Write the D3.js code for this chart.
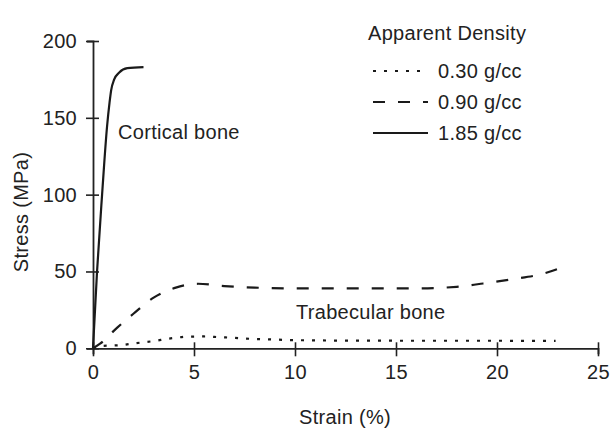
<!DOCTYPE html>
<html>
<head>
<meta charset="utf-8">
<script src="https://d3js.org/d3.v7.min.js"></script>
<style>
body { margin: 0; background: #fff; }
svg text { font-family: "Liberation Sans", Arial, Helvetica, sans-serif; fill: #222; letter-spacing: 0.3px; }
</style>
</head>
<body>
<svg id="chart" width="611" height="431"></svg>
<script>
// strain (%) , stress (MPa)
var lowDensity = [[0,0],[0.43,1.5],[1.42,2.1],[1.98,3.1],[2.48,3.9],[3.07,4.8],[3.65,6.1],[4.14,6.9],[4.7,7.6],[5.5,7.7],[6.3,7.2],[6.9,6.9],[7.9,6.1],[8.5,5.9],[10,5.3],[13,5],[17,4.9],[20,4.9],[22.9,4.8]];
var midDensity = [[0,0],[0.35,3],[1.2,13.5],[2,22.5],[3,33],[4.1,39.5],[5.2,42],[6.5,40.5],[8,39.5],[10,39],[13,39],[16,39],[18,40],[19.2,42],[20.8,45],[22.3,48.6],[23.5,54]];
var highDensity = [[0,0],[0.2,50],[0.45,100],[0.7,145],[0.82,160],[0.9,168],[1.05,175],[1.3,179.5],[1.7,182.3],[2.5,183]];

var xTicks = [0, 5, 10, 15, 20, 25];
var yTicks = [0, 50, 100, 150, 200];
var legendTitle = "Apparent Density";
var legendLabels = ["0.30 g/cc", "0.90 g/cc", "1.85 g/cc"];
var dashes = ["3,8", "12,13", null];

var svg = d3.select("#chart");
var x = d3.scaleLinear().domain([0, 25]).range([93, 598]);
var y = d3.scaleLinear().domain([0, 200]).range([348.3, 41]);

// axes, ticks crossing the line
var xAxis = svg.append("g").attr("transform", "translate(0," + y(0) + ")")
	.call(d3.axisBottom(x).tickValues(xTicks).tickSizeOuter(0).tickSize(6).tickPadding(11));
xAxis.selectAll(".tick line").attr("y1", -6).attr("y2", 8);
var yAxis = svg.append("g").attr("transform", "translate(" + x(0) + ",0)")
	.call(d3.axisLeft(y).tickValues(yTicks).tickSizeOuter(0).tickSize(6).tickPadding(10));
yAxis.selectAll(".tick line").attr("x1", -7).attr("x2", 6);
svg.selectAll(".domain").attr("stroke", "#222").attr("stroke-width", 1.8);
svg.selectAll(".tick line").attr("stroke", "#222").attr("stroke-width", 1.6);
svg.selectAll(".tick text").style("font-size", "20px").attr("fill", "#222");

svg.append("text").attr("x", 345).attr("y", 424).attr("text-anchor", "middle")
	.style("font-size", "20px").text("Strain (%)");
svg.append("text").attr("transform", "translate(28,212) rotate(-90)").attr("text-anchor", "middle")
	.style("font-size", "20px").text("Stress (MPa)");

var line = d3.line().x(function(d){ return x(d[0]); }).y(function(d){ return y(d[1]); }).curve(d3.curveMonotoneX);
[lowDensity, midDensity, highDensity].forEach(function(series, i){
	svg.append("path").datum(series).attr("d", line)
		.attr("fill", "none").attr("stroke", "#1a1a1a")
		.attr("stroke-width", 2.2)
		.attr("stroke-dasharray", dashes[i]);
});

svg.append("text").attr("x", 118).attr("y", 139).style("font-size", "20px").text("Cortical bone");
svg.append("text").attr("x", 296).attr("y", 319).style("font-size", "20px").text("Trabecular bone");

// legend
svg.append("text").attr("x", 368).attr("y", 40).style("font-size", "20px").text(legendTitle);
legendLabels.forEach(function(lab, i){
	var yy = 71 + i * 31;
	svg.append("line").attr("x1", 373).attr("x2", 428).attr("y1", yy).attr("y2", yy)
		.attr("stroke", "#1a1a1a").attr("stroke-width", 2).attr("stroke-dasharray", dashes[i]);
	svg.append("text").attr("x", 438).attr("y", yy + 7).style("font-size", "20px").text(lab);
});
</script>
</body>
</html>
